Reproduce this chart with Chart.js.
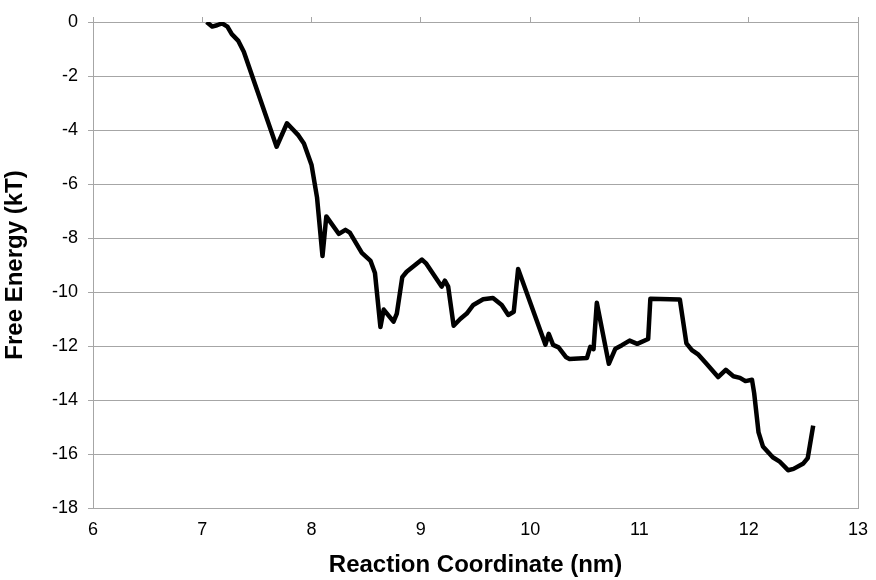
<!DOCTYPE html>
<html>
<head>
<meta charset="utf-8">
<script src="https://cdn.jsdelivr.net/npm/chart.js@4"></script>
<style>
  body { margin: 0; background: #fff; }
  #wrap { width: 876px; height: 580px; }
</style>
</head>
<body>
<div id="wrap"><canvas id="energyChart" width="876" height="580"></canvas></div>
<script>
// DATA

const coordNm = [
  7.04, 7.09, 7.135, 7.18, 7.23, 7.27, 7.33, 7.38, 7.68, 7.775,
  7.88, 7.93, 8.00, 8.05, 8.10, 8.135, 8.25, 8.31, 8.35, 8.46,
  8.54, 8.58, 8.63, 8.66, 8.75, 8.78, 8.83, 8.87, 9.01, 9.05,
  9.19, 9.22, 9.25, 9.30, 9.36, 9.42, 9.48, 9.57, 9.66, 9.74,
  9.80, 9.85, 9.89, 10.14, 10.17, 10.21, 10.26, 10.33, 10.36, 10.52,
  10.55, 10.58, 10.61, 10.72, 10.78, 10.84, 10.91, 10.98, 11.08, 11.10,
  11.37, 11.43, 11.48, 11.54, 11.61, 11.72, 11.79, 11.86, 11.92, 11.97,
  12.03, 12.05, 12.09, 12.13, 12.22, 12.28, 12.36, 12.41, 12.50, 12.54,
  12.59
];

const freeEnergy = [
  0.0, -0.17, -0.12, -0.05, -0.17, -0.45, -0.7, -1.1, -4.62, -3.75,
  -4.2, -4.5, -5.3, -6.5, -8.67, -7.2, -7.85, -7.7, -7.8, -8.55,
  -8.85, -9.3, -11.3, -10.65, -11.1, -10.8, -9.45, -9.25, -8.8, -8.95,
  -9.8, -9.58, -9.8, -11.25, -11.0, -10.8, -10.48, -10.27, -10.22, -10.48,
  -10.85, -10.73, -9.15, -11.95, -11.55, -11.96, -12.05, -12.42, -12.48, -12.44,
  -12.03, -12.12, -10.4, -12.66, -12.1, -11.97, -11.8, -11.92, -11.74, -10.25,
  -10.28, -11.9, -12.15, -12.32, -12.64, -13.15, -12.88, -13.12, -13.18, -13.3,
  -13.25, -13.75, -15.2, -15.72, -16.12, -16.27, -16.6, -16.55, -16.35, -16.15,
  -14.95
];

const xTicks = [6, 7, 8, 9, 10, 11, 12, 13];
const yTicks = [0, -2, -4, -6, -8, -10, -12, -14, -16, -18];

const points = coordNm.map((x, i) => ({ x: x, y: freeEnergy[i] }));

const gridGray = "#a6a6a6";
const fontFamily = "'Liberation Sans', Arial, sans-serif";

// plot area frame
const frame = {
  id: "frame",
  beforeDatasetsDraw(chart) {
    const a = chart.chartArea;
    const ctx = chart.ctx;
    ctx.save();
    ctx.strokeStyle = gridGray;
    ctx.lineWidth = 1;
    ctx.strokeRect(Math.round(a.left) + 0.5, Math.round(a.top) + 0.5,
      Math.round(a.right - a.left), Math.round(a.bottom - a.top));
    ctx.restore();
  }
};

new Chart(document.getElementById("energyChart").getContext("2d"), {
  type: "scatter",
  data: {
    datasets: [{
      data: points,
      showLine: true,
      borderColor: "#000",
      borderWidth: 4.5,
      borderJoinStyle: "round",
      pointRadius: 0,
      tension: 0,
      fill: false
    }]
  },
  options: {
    responsive: false,
    animation: false,
    layout: { padding: { left: 0, right: 18, top: 0, bottom: 0 } },
    plugins: { legend: { display: false }, tooltip: { enabled: false } },
    scales: {
      x: {
        type: "linear",
        position: "bottom",
        min: 6,
        max: 13,
        afterBuildTicks: (s) => { s.ticks = xTicks.map(v => ({ value: v })); },
        afterFit: (s) => { s.height = 72; s.paddingLeft = 0; s.paddingRight = 0; },
        grid: { display: false, drawTicks: false },
        border: { display: false },
        ticks: { color: "#000", font: { family: fontFamily, size: 18 }, padding: 11 },
        title: {
          display: true,
          text: "Reaction Coordinate (nm)",
          color: "#000",
          font: { family: fontFamily, size: 24, weight: "bold" },
          padding: { top: 0, bottom: 0 }
        }
      },
      xTop: {
        type: "linear",
        position: "top",
        min: 6,
        max: 13,
        afterBuildTicks: (s) => { s.ticks = xTicks.map(v => ({ value: v })); },
        afterFit: (s) => { s.height = 22; s.paddingLeft = 0; s.paddingRight = 0; },
        grid: { drawOnChartArea: false, color: gridGray, tickLength: 5 },
        border: { display: false },
        ticks: { display: false }
      },
      y: {
        min: -18,
        max: 0,
        afterBuildTicks: (s) => { s.ticks = yTicks.map(v => ({ value: v })); },
        afterFit: (s) => { s.width = 93; },
        grid: { color: gridGray, tickLength: 5 },
        border: { color: gridGray },
        ticks: { color: "#000", font: { family: fontFamily, size: 18 }, padding: 10 },
        title: {
          display: true,
          text: "Free Energy (kT)",
          color: "#000",
          font: { family: fontFamily, size: 24, weight: "bold" },
          padding: { top: 1, bottom: 1 }
        }
      }
    }
  },
  plugins: [frame]
});
</script>
</body>
</html>
